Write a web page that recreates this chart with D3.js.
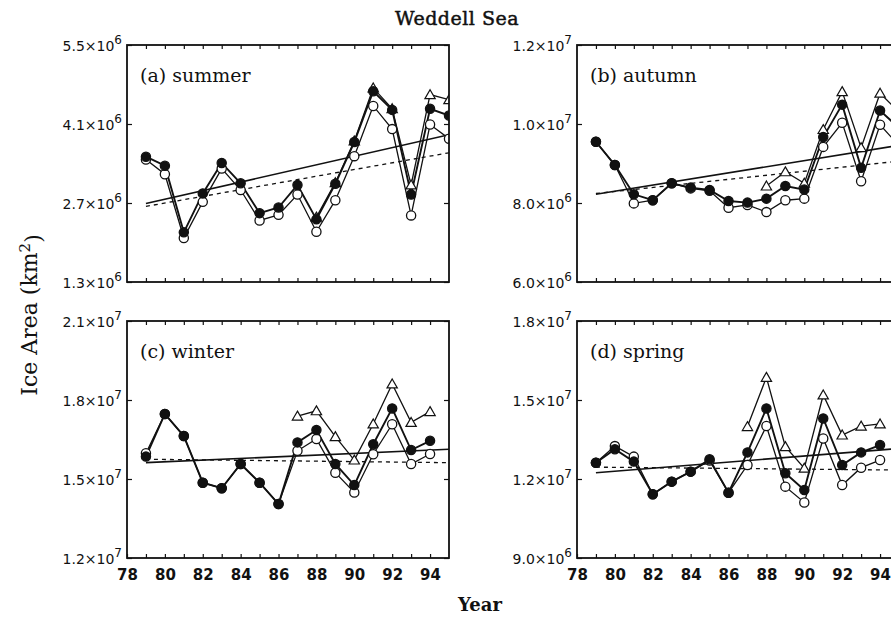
<!DOCTYPE html>
<html>
<head>
<meta charset="utf-8">
<script src="https://cdn.jsdelivr.net/npm/d3@7"></script>
<style>
  body { margin: 0; background: #fff; }
  svg { display: block; }
  .lbl { font-family: "DejaVu Serif", serif; fill: #111; }
  .tick text { font-family: "DejaVu Sans", sans-serif; fill: #111; }
</style>
</head>
<body>
<svg id="chart" width="891" height="618"></svg>
<script>
// ice area in units of 10^6 km^2
var yearsAB = [79, 80, 81, 82, 83, 84, 85, 86, 87, 88, 89, 90, 91, 92, 93, 94, 95];
var yearsCD = [79, 80, 81, 82, 83, 84, 85, 86, 87, 88, 89, 90, 91, 92, 93, 94];
var tickYears = [79, 80, 81, 82, 83, 84, 85, 86, 87, 88, 89, 90, 91, 92, 93, 94];
var labelYears = [78, 80, 82, 84, 86, 88, 90, 92, 94];
var trendYears = [79, 95];

var summerFilled = [3.52, 3.36, 2.18, 2.87, 3.41, 3.05, 2.52, 2.62, 3.02, 2.41, 3.04, 3.78, 4.68, 4.35, 2.85, 4.37, 4.25];
var summerOpen   = [3.47, 3.21, 2.08, 2.72, 3.31, 2.93, 2.39, 2.49, 2.85, 2.19, 2.75, 3.53, 4.42, 4.01, 2.48, 4.09, 3.84];
var summerTri    = [null, null, null, null, null, null, null, null, null, 2.45, 3.06, 3.80, 4.74, 4.37, 3.02, 4.62, 4.53];
var summerTrend  = [2.69, 3.91];
var summerTrend2 = [2.64, 3.59];
var summerTicks  = [1.3, 2.7, 4.1, 5.5];

var autumnFilled = [9.55, 8.96, 8.22, 8.07, 8.50, 8.39, 8.33, 8.05, 8.01, 8.11, 8.43, 8.34, 9.67, 10.49, 8.89, 10.34, 9.90];
var autumnOpen   = [9.55, 8.96, 7.99, 8.07, 8.50, 8.37, 8.31, 7.88, 7.95, 7.77, 8.07, 8.11, 9.42, 10.03, 8.55, 9.98, 9.45];
var autumnTri    = [null, null, null, null, null, null, null, null, null, 8.43, 8.79, 8.50, 9.86, 10.82, 9.40, 10.78, 10.30];
var autumnTrend  = [8.22, 9.46];
var autumnTrend2 = [8.24, 9.06];
var autumnTicks  = [6, 8, 10, 12];

var winterFilled = [15.85, 17.47, 16.63, 14.86, 14.65, 15.57, 14.86, 14.05, 16.39, 16.86, 15.57, 14.77, 16.32, 17.68, 16.10, 16.45];
var winterOpen   = [15.98, 17.47, 16.63, 14.86, 14.65, 15.57, 14.86, 14.05, 16.07, 16.52, 15.24, 14.49, 15.94, 17.08, 15.57, 15.95];
var winterTri    = [null, null, null, null, null, null, null, null, 17.39, 17.59, 16.61, 15.72, 17.09, 18.61, 17.15, 17.56];
var winterTrend  = [15.62, 16.13];
var winterTrend2 = [15.75, 15.62];
var winterTicks  = [12, 15, 18, 21];

var springFilled = [12.62, 13.13, 12.66, 11.42, 11.90, 12.28, 12.75, 11.48, 13.01, 14.68, 12.22, 11.58, 14.30, 12.53, 13.01, 13.29];
var springOpen   = [12.62, 13.25, 12.85, 11.42, 11.90, 12.28, 12.70, 11.48, 12.53, 14.01, 11.71, 11.11, 13.54, 11.77, 12.43, 12.72];
var springTri    = [null, null, null, null, null, null, null, null, 13.99, 15.86, 13.23, 12.41, 15.19, 13.67, 14.01, 14.09];
var springTrend  = [12.24, 13.16];
var springTrend2 = [12.45, 12.34];
var springTicks  = [9, 12, 15, 18];

var panels = [
  {id: 'a', name: '(a) summer', x0: 127, y0: 45, years: yearsAB, filled: summerFilled, open: summerOpen, tri: summerTri, trend: summerTrend, trend2: summerTrend2, ticks: summerTicks, xlab: false},
  {id: 'b', name: '(b) autumn', x0: 577, y0: 45, years: yearsAB, filled: autumnFilled, open: autumnOpen, tri: autumnTri, trend: autumnTrend, trend2: autumnTrend2, ticks: autumnTicks, xlab: false},
  {id: 'c', name: '(c) winter', x0: 127, y0: 321, years: yearsCD, filled: winterFilled, open: winterOpen, tri: winterTri, trend: winterTrend, trend2: winterTrend2, ticks: winterTicks, xlab: true},
  {id: 'd', name: '(d) spring', x0: 577, y0: 321, years: yearsCD, filled: springFilled, open: springOpen, tri: springTri, trend: springTrend, trend2: springTrend2, ticks: springTicks, xlab: true}
];

var W = 322, H = 237;
var svg = d3.select('#chart');

// "5.5x10^6" style labels
function sciLabel(sel, v) {
  var val = v * 1e6;
  var ex = Math.floor(Math.log10(val) + 1e-9);
  var man = (val / Math.pow(10, ex)).toFixed(1);
  sel.text(null);
  sel.append('tspan').text(man + '\u00d710');
  sel.append('tspan').attr('dy', '-0.6em').attr('font-size', '12px').text(ex);
}

panels.forEach(function(p) {
  var x = d3.scaleLinear().domain([78, 95]).range([0, W]);
  var y = d3.scaleLinear().domain([p.ticks[0], p.ticks[3]]).range([H, 0]);
  var g = svg.append('g').attr('transform', 'translate(' + p.x0 + ',' + p.y0 + ')');

  g.append('clipPath').attr('id', 'clip-' + p.id)
    .append('rect').attr('width', W).attr('height', H);

  var plot = g.append('g').attr('clip-path', 'url(#clip-' + p.id + ')');

  // trend lines
  var trendLine = d3.line().x((d, i) => x(trendYears[i])).y((d) => y(d));
  plot.append('path').attr('d', trendLine(p.trend))
    .attr('fill', 'none').attr('stroke', '#111').attr('stroke-width', 1.6);
  plot.append('path').attr('d', trendLine(p.trend2))
    .attr('fill', 'none').attr('stroke', '#111').attr('stroke-width', 1.3)
    .attr('stroke-dasharray', '4,4');

  var series = [
    {vals: p.tri, kind: 'tri'},
    {vals: p.open, kind: 'open'},
    {vals: p.filled, kind: 'filled'}
  ];
  var line = d3.line()
    .defined((d) => d.v !== null)
    .x((d) => x(d.yr)).y((d) => y(d.v));

  series.forEach(function(s) {
    var pts = s.vals.map((v, i) => ({yr: p.years[i], v: v}));
    plot.append('path').attr('d', line(pts))
      .attr('fill', 'none').attr('stroke', '#111')
      .attr('stroke-width', s.kind === 'filled' ? 1.9 : 1.3);
  });

  series.forEach(function(s) {
    var pts = s.vals.map((v, i) => ({yr: p.years[i], v: v})).filter((d) => d.v !== null);
    if (s.kind === 'tri') {
      plot.selectAll('.tri').data(pts).enter().append('path')
        .attr('d', d3.symbol().type(d3.symbolTriangle).size(46))
        .attr('transform', (d) => 'translate(' + x(d.yr) + ',' + (y(d.v) + 1) + ')')
        .attr('fill', '#fff').attr('stroke', '#111').attr('stroke-width', 1.2);
    } else {
      plot.selectAll('.c-' + s.kind).data(pts).enter().append('circle')
        .attr('cx', (d) => x(d.yr)).attr('cy', (d) => y(d.v)).attr('r', 4.6)
        .attr('fill', s.kind === 'filled' ? '#111' : '#fff')
        .attr('stroke', '#111').attr('stroke-width', 1.3);
    }
  });

  // axes: ticks point inwards on all four sides
  var bottom = d3.axisBottom(x).tickValues(p.xlab ? tickYears.concat([78]) : tickYears)
    .tickSize(-4).tickPadding(11)
    .tickFormat((d) => p.xlab && labelYears.indexOf(d) >= 0 ? d : '');
  var top = d3.axisTop(x).tickValues(tickYears).tickSize(-4).tickFormat('');
  var left = d3.axisLeft(y).tickValues(p.ticks).tickSize(-5).tickPadding(5);
  var right = d3.axisRight(y).tickValues(p.ticks).tickSize(-5).tickFormat('');

  var gb = g.append('g').attr('transform', 'translate(0,' + H + ')').call(bottom);
  g.append('g').call(top);
  var gl = g.append('g').call(left);
  g.append('g').attr('transform', 'translate(' + W + ',0)').call(right);

  gb.selectAll('text').attr('font-size', '15px').attr('font-weight', 'bold');
  gl.selectAll('text').attr('font-size', '14px').attr('dy', '0.4em')
    .each(function(d) { sciLabel(d3.select(this), d); });

  g.selectAll('.domain').remove();
  g.selectAll('.tick line').attr('stroke', '#111').attr('stroke-width', 1.2);

  g.append('rect').attr('width', W).attr('height', H)
    .attr('fill', 'none').attr('stroke', '#111').attr('stroke-width', 1.8);

  g.append('text').attr('class', 'lbl').attr('x', 13).attr('y', 37)
    .attr('font-size', '19px').text(p.name);
});

svg.append('text').attr('class', 'lbl').attr('x', 457).attr('y', 25)
  .attr('text-anchor', 'middle').attr('font-size', '19px').attr('letter-spacing', '0.5px')
  .attr('stroke', '#111').attr('stroke-width', 0.5)
  .text('Weddell Sea');

svg.append('text').attr('class', 'lbl').attr('x', 480).attr('y', 611)
  .attr('text-anchor', 'middle').attr('font-size', '18px').attr('font-weight', 'bold')
  .text('Year');

var yt = svg.append('text').attr('class', 'lbl')
  .attr('transform', 'translate(37,315) rotate(-90)')
  .attr('text-anchor', 'middle').attr('font-size', '22px');
yt.append('tspan').text('Ice Area (km');
yt.append('tspan').attr('dy', '-0.5em').attr('font-size', '15px').text('2');
yt.append('tspan').attr('dy', '0.5em').text(')');
</script>
</body>
</html>
